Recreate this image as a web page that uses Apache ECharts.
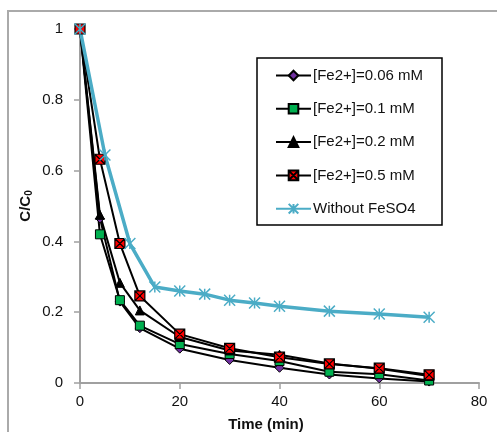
<!DOCTYPE html>
<html>
<head>
<meta charset="utf-8">
<script src="https://cdn.jsdelivr.net/npm/echarts@6/dist/echarts.min.js"></script>
<style>
  html, body { margin: 0; padding: 0; background: #fff; }
  #main { width: 497px; height: 432px; }
</style>
</head>
<body>
<div id="main"></div>
<script>
// sampling times (min)
var timeFe = [0, 4, 8, 12, 20, 30, 40, 50, 60, 70];
var timeNoFe = [0, 5, 10, 15, 20, 25, 30, 35, 40, 50, 60, 70];

// C/C0 values
var fe006 = [1, 0.465, 0.23, 0.155, 0.097, 0.065, 0.043, 0.024, 0.013, 0.004];
var fe01 = [1, 0.42, 0.234, 0.162, 0.11, 0.082, 0.062, 0.032, 0.025, 0.007];
var fe02 = [1, 0.475, 0.283, 0.205, 0.13, 0.092, 0.08, 0.055, 0.04, 0.02];
var fe05 = [1, 0.632, 0.394, 0.246, 0.138, 0.098, 0.073, 0.054, 0.042, 0.023];
var noFe = [1, 0.644, 0.394, 0.271, 0.26, 0.251, 0.234, 0.226, 0.217, 0.203, 0.195, 0.186];

var seriesNames = ['[Fe2+]=0.06 mM', '[Fe2+]=0.1 mM', '[Fe2+]=0.2 mM', '[Fe2+]=0.5 mM', 'Without FeSO4'];

function pairs(xs, ys) {
    return xs.map(function(x, i) { return [x, ys[i]]; });
}

var squareX = 'path://M0,0L10,0L10,10L0,10Z M0,0L10,10 M10,0L0,10';
var asterisk = 'path://M0,0L10,10 M10,0L0,10 M5,0L5,10';

var chart = echarts.init(document.getElementById('main'));

var option = {
    backgroundColor: '#fff',
    animation: false,
    textStyle: { fontFamily: 'Liberation Sans, Arial, sans-serif' },
    grid: { left: 80, right: 18, top: 29, bottom: 49, outerBoundsMode: 'none' },
    graphic: [
        {
            type: 'rect',
            shape: { x: 8, y: 11, width: 500, height: 440 },
            style: { fill: 'none', stroke: '#aaaaaa', lineWidth: 2 },
            z: -1
        },
        {
            type: 'rect',
            shape: { x: 257, y: 58, width: 185, height: 167 },
            style: { fill: '#fff', stroke: '#000', lineWidth: 1.5 },
            z: 5
        }
    ],
    legend: {
        orient: 'vertical',
        left: 270,
        top: 63,
        itemWidth: 35,
        itemHeight: 12,
        itemGap: 18.3,
        z: 6,
        textStyle: { fontSize: 15, lineHeight: 14, color: '#111', padding: [0, 0, 0, -3] },
        data: seriesNames
    },
    xAxis: {
        type: 'value',
        min: 0,
        max: 80,
        interval: 20,
        name: 'Time (min)',
        nameLocation: 'middle',
        nameGap: 34,
        nameMoveOverlap: false,
        nameTextStyle: { fontSize: 15, fontWeight: 'bold', color: '#111', padding: [0, 27, 0, 0] },
        axisLine: { lineStyle: { color: '#a0a0a0', width: 2 } },
        axisTick: { show: true, length: 6, lineStyle: { color: '#a0a0a0', width: 1.5 } },
        axisLabel: { fontSize: 15, color: '#111', margin: 11 },
        splitLine: { show: false }
    },
    yAxis: {
        type: 'value',
        min: 0,
        max: 1,
        interval: 0.2,
        name: '{a|C/C}{b|0}',
        nameLocation: 'middle',
        nameGap: 46,
        nameMoveOverlap: false,
        nameTextStyle: {
            rich: {
                a: { fontSize: 15, fontWeight: 'bold', color: '#111' },
                b: { fontSize: 10, fontWeight: 'bold', color: '#111', padding: [6, 0, 0, 0] }
            }
        },
        axisLine: { show: true, lineStyle: { color: '#a0a0a0', width: 2 } },
        axisTick: { show: true, length: 6, lineStyle: { color: '#a0a0a0', width: 1.5 } },
        axisLabel: { fontSize: 15, color: '#111', margin: 17 },
        splitLine: { show: false }
    },
    series: [
        {
            name: seriesNames[0],
            type: 'line',
            data: pairs(timeFe, fe006),
            symbol: 'diamond',
            symbolSize: 9,
            lineStyle: { color: '#000', width: 2 },
            itemStyle: { color: '#7030a0', borderColor: '#000', borderWidth: 1 }
        },
        {
            name: seriesNames[1],
            type: 'line',
            data: pairs(timeFe, fe01),
            symbol: 'rect',
            symbolSize: 9,
            lineStyle: { color: '#000', width: 2 },
            itemStyle: { color: '#00b050', borderColor: '#000', borderWidth: 1 }
        },
        {
            name: seriesNames[2],
            type: 'line',
            data: pairs(timeFe, fe02),
            symbol: 'triangle',
            symbolSize: 9,
            lineStyle: { color: '#000', width: 2 },
            itemStyle: { color: '#000', borderColor: '#000', borderWidth: 1 }
        },
        {
            name: seriesNames[3],
            type: 'line',
            data: pairs(timeFe, fe05),
            symbol: squareX,
            symbolSize: 10,
            lineStyle: { color: '#000', width: 2 },
            itemStyle: { color: '#ff0000', borderColor: '#000', borderWidth: 1.2 }
        },
        {
            name: seriesNames[4],
            type: 'line',
            data: pairs(timeNoFe, noFe),
            symbol: asterisk,
            symbolSize: 11,
            lineStyle: { color: '#4bacc6', width: 3.5 },
            itemStyle: { color: '#4bacc6', borderColor: '#4bacc6', borderWidth: 1.5 }
        }
    ]
};

chart.setOption(option);
</script>
</body>
</html>
